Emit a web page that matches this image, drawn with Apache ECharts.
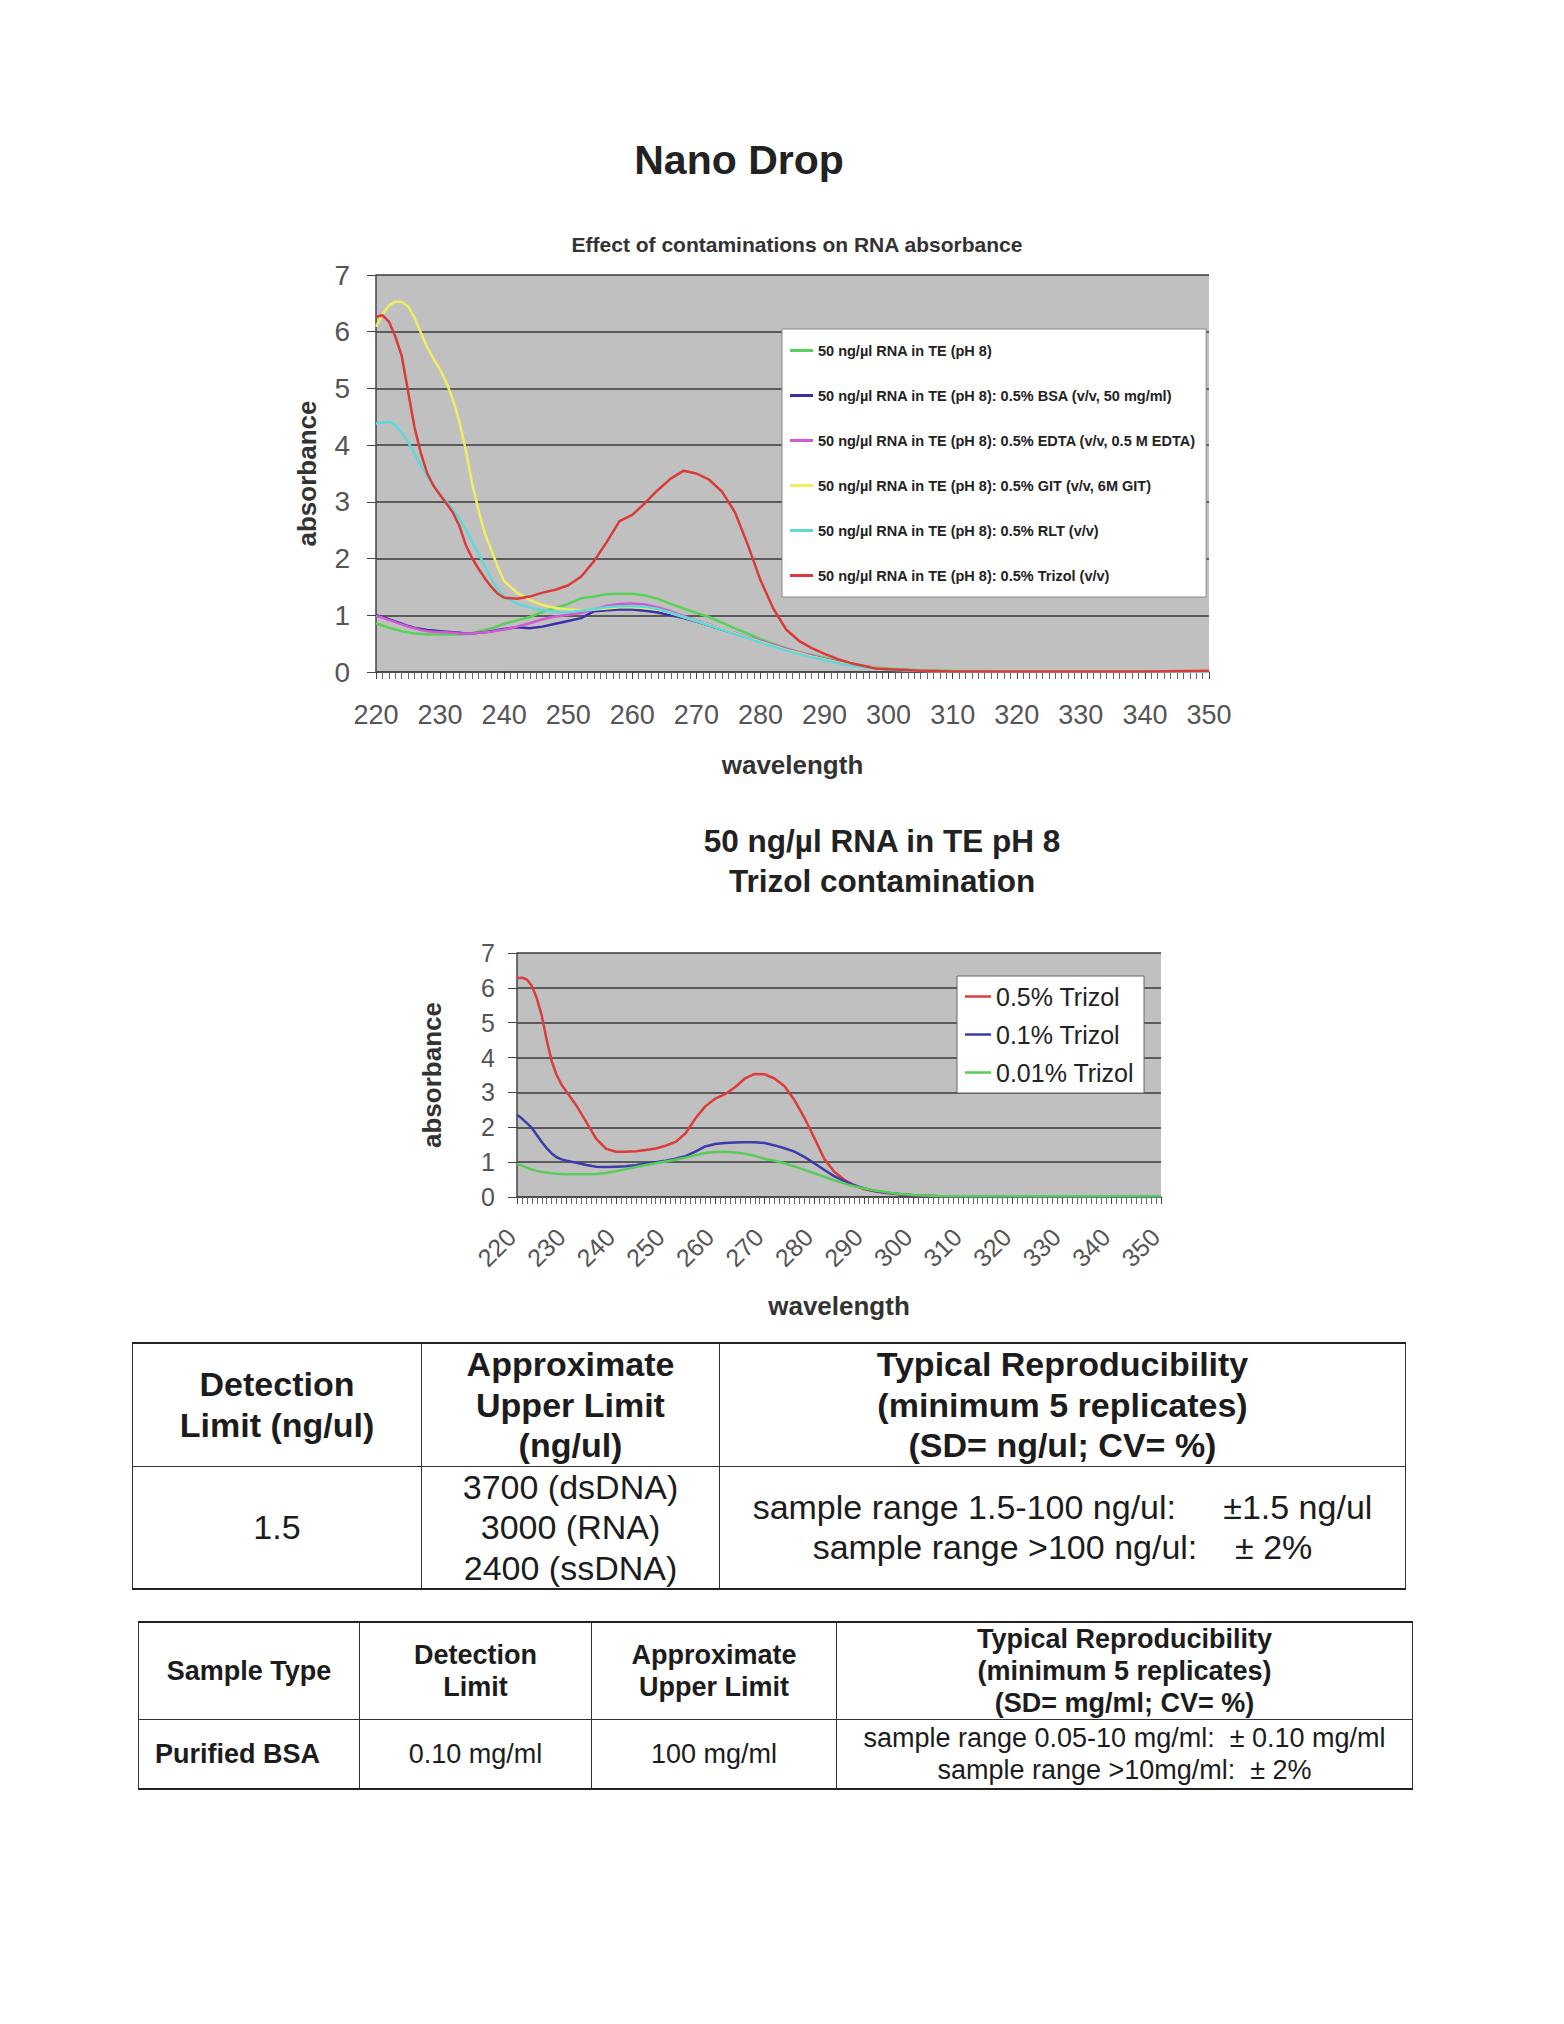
<!DOCTYPE html>
<html><head><meta charset="utf-8">
<script src="https://cdn.jsdelivr.net/npm/echarts/dist/echarts.min.js"></script>
<style>
html,body{margin:0;padding:0;background:#fff;}
#chart{position:absolute;left:0;top:0;width:1564px;height:2024px;}
table{position:absolute;border-collapse:collapse;font-family:'Liberation Sans',Arial,sans-serif;color:#1c1c1c;table-layout:fixed;}
td{border:1px solid #333;text-align:center;vertical-align:middle;padding:0;white-space:nowrap;}
#t1 td{font-size:34px;line-height:40.5px;}
#t1 tr.h td{font-weight:bold;}
#t1{border-top:2px solid #222;border-bottom:2px solid #222;}
#t2 td{font-size:27px;line-height:32px;}
#t2 tr.h td{font-weight:bold;}
#t2{border-top:2px solid #222;border-bottom:2px solid #222;}
</style></head>
<body>
<div id="chart"></div>

<table id="t1" style="left:132px;top:1342px;width:1273px;">
<colgroup><col style="width:289px"><col style="width:298px"><col style="width:686px"></colgroup>
<tr class="h" style="height:121px"><td>Detection<br>Limit (ng/ul)</td><td>Approximate<br>Upper Limit<br>(ng/ul)</td><td>Typical Reproducibility<br>(minimum 5 replicates)<br>(SD= ng/ul; CV= %)</td></tr>
<tr style="height:123px"><td>1.5</td><td>3700 (dsDNA)<br>3000 (RNA)<br>2400 (ssDNA)</td><td>sample range 1.5-100 ng/ul:&nbsp;&nbsp;&nbsp;&nbsp; ±1.5 ng/ul<br>sample range &gt;100 ng/ul:&nbsp;&nbsp;&nbsp; ± 2%</td></tr>
</table>

<table id="t2" style="left:138px;top:1621px;width:1274px;">
<colgroup><col style="width:221px"><col style="width:232px"><col style="width:245px"><col style="width:576px"></colgroup>
<tr class="h" style="height:95px"><td>Sample Type</td><td>Detection<br>Limit</td><td>Approximate<br>Upper Limit</td><td>Typical Reproducibility<br>(minimum 5 replicates)<br>(SD= mg/ml; CV= %)</td></tr>
<tr style="height:69px"><td style="font-weight:bold;text-align:left;padding-left:16px;">Purified BSA</td><td>0.10 mg/ml</td><td>100 mg/ml</td><td>sample range 0.05-10 mg/ml:&nbsp; ± 0.10 mg/ml<br>sample range &gt;10mg/ml:&nbsp; ± 2%</td></tr>
</table>

<script>
// ---------- Chart 1 data: Effect of contaminations on RNA absorbance ----------
const wl1 = [220,221,222,223,224,225,226,227,228,229,230,231,232,233,234,235,236,237,238,239,240,242,244,246,248,250,252,254,256,258,260,262,264,266,268,270,272,274,276,278,280,282,284,286,288,290,292,294,296,298,300,305,310,320,330,340,350];
const rnaTE = [0.86,0.82,0.78,0.75,0.72,0.70,0.68,0.67,0.66,0.66,0.66,0.66,0.66,0.66,0.67,0.69,0.71,0.74,0.77,0.81,0.85,0.91,0.97,1.06,1.13,1.20,1.30,1.33,1.37,1.38,1.38,1.35,1.29,1.20,1.12,1.04,0.97,0.87,0.77,0.68,0.58,0.50,0.42,0.35,0.30,0.25,0.19,0.15,0.11,0.08,0.06,0.03,0.02,0.01,0.01,0.01,0.01];
const bsa = [1.00,0.97,0.93,0.89,0.85,0.81,0.78,0.76,0.74,0.73,0.72,0.71,0.70,0.69,0.68,0.68,0.69,0.70,0.72,0.74,0.76,0.79,0.77,0.80,0.85,0.90,0.95,1.07,1.09,1.10,1.10,1.08,1.05,1.00,0.95,0.89,0.82,0.75,0.68,0.61,0.54,0.47,0.40,0.34,0.28,0.23,0.18,0.13,0.10,0.07,0.05,0.02,0.01,0.01,0.01,0.01,0.01];
const edta = [0.99,0.96,0.92,0.88,0.84,0.80,0.77,0.74,0.72,0.71,0.70,0.70,0.69,0.68,0.68,0.68,0.69,0.70,0.71,0.73,0.75,0.80,0.86,0.93,0.98,1.01,1.04,1.10,1.17,1.20,1.21,1.19,1.14,1.07,0.99,0.91,0.84,0.76,0.69,0.62,0.55,0.48,0.41,0.35,0.29,0.23,0.18,0.14,0.10,0.07,0.05,0.02,0.01,0.01,0.01,0.01,0.01];
const git = [6.09,6.30,6.46,6.53,6.53,6.45,6.25,5.98,5.72,5.52,5.33,5.10,4.80,4.42,3.92,3.33,2.85,2.44,2.15,1.85,1.60,1.40,1.27,1.18,1.13,1.10,1.09,1.10,1.12,1.14,1.14,1.13,1.10,1.04,0.97,0.90,0.83,0.76,0.68,0.61,0.53,0.46,0.39,0.33,0.27,0.22,0.17,0.13,0.10,0.07,0.05,0.02,0.01,0.01,0.01,0.01,0.01];
const rlt = [4.38,4.40,4.41,4.36,4.22,4.05,3.86,3.64,3.45,3.28,3.12,3.00,2.86,2.71,2.52,2.30,2.09,1.86,1.64,1.46,1.33,1.20,1.14,1.09,1.06,1.06,1.08,1.11,1.14,1.16,1.16,1.15,1.11,1.04,0.97,0.90,0.82,0.75,0.67,0.60,0.52,0.45,0.38,0.32,0.26,0.21,0.16,0.12,0.09,0.06,0.04,0.02,0.01,0.01,0.01,0.01,0.01];
const trizol = [6.26,6.29,6.18,5.92,5.58,4.95,4.32,3.86,3.50,3.28,3.12,2.97,2.81,2.58,2.24,2.01,1.82,1.65,1.50,1.38,1.31,1.29,1.33,1.40,1.45,1.53,1.68,1.95,2.29,2.66,2.77,2.98,3.21,3.41,3.55,3.50,3.39,3.18,2.82,2.25,1.62,1.12,0.75,0.55,0.42,0.32,0.23,0.16,0.11,0.06,0.05,0.02,0.01,0.01,0.01,0.01,0.02];
const names1 = ['50 ng/µl RNA in TE (pH 8)','50 ng/µl RNA in TE (pH 8): 0.5% BSA (v/v, 50 mg/ml)','50 ng/µl RNA in TE (pH 8): 0.5% EDTA (v/v, 0.5 M EDTA)','50 ng/µl RNA in TE (pH 8): 0.5% GIT (v/v, 6M GIT)','50 ng/µl RNA in TE (pH 8): 0.5% RLT (v/v)','50 ng/µl RNA in TE (pH 8): 0.5% Trizol (v/v)'];
const colors1 = ['#58d158','#3a30a8','#d25ad2','#eeee62','#5ed8d8','#da3a3a'];

// ---------- Chart 2 data: Trizol contamination ----------
const wl2 = [220,221,222,223,224,225,226,227,228,229,230,232,234,236,238,240,242,244,246,248,250,252,254,256,258,260,262,264,266,268,270,272,274,276,278,280,282,284,286,288,290,292,294,296,298,300,305,310,320,330,340,350];
const triz05 = [6.28,6.29,6.24,6.05,5.70,5.20,4.50,3.90,3.50,3.22,3.02,2.62,2.15,1.67,1.38,1.30,1.30,1.31,1.35,1.39,1.47,1.58,1.82,2.25,2.60,2.82,2.95,3.15,3.40,3.53,3.52,3.40,3.18,2.78,2.28,1.70,1.10,0.73,0.50,0.34,0.23,0.17,0.13,0.09,0.07,0.05,0.02,0.01,0.01,0.01,0.01,0.01];
const triz01 = [2.36,2.25,2.12,1.98,1.78,1.58,1.40,1.25,1.14,1.08,1.04,0.98,0.92,0.87,0.86,0.87,0.88,0.91,0.96,1.00,1.04,1.10,1.17,1.30,1.45,1.52,1.55,1.56,1.57,1.57,1.55,1.48,1.40,1.30,1.15,0.97,0.78,0.60,0.46,0.34,0.25,0.18,0.13,0.10,0.07,0.05,0.02,0.01,0.01,0.02,0.01,0.01];
const triz001 = [0.95,0.90,0.84,0.79,0.75,0.72,0.70,0.68,0.67,0.66,0.65,0.65,0.65,0.66,0.69,0.74,0.80,0.86,0.92,0.97,1.02,1.07,1.13,1.20,1.26,1.29,1.30,1.28,1.24,1.18,1.10,1.04,0.97,0.88,0.78,0.68,0.58,0.48,0.39,0.31,0.25,0.19,0.15,0.11,0.08,0.06,0.03,0.02,0.02,0.02,0.02,0.02];
const names2 = ['0.5% Trizol','0.1% Trizol','0.01% Trizol'];
const colors2 = ['#dc3c3c','#3c3caa','#58cc58'];

// axis ranges / tick labels
const X_MIN = 220, X_MAX = 350, X_STEP = 10;
const Y_MIN = 0, Y_MAX = 7, Y_STEP = 1;

const FONT = "'Liberation Sans', Arial, Helvetica, sans-serif";
function pairs(xs, ys){ return xs.map((x,i)=>[x, ys[i]]); }

const chart = echarts.init(document.getElementById('chart'), null, {renderer:'svg'});

function xAxisCfg(grid, fontSize, rotate, margin, nameGap, pad){
  return {
    gridIndex:grid, type:'value', min:X_MIN, max:X_MAX, interval:X_STEP,
    axisLine:{show:true, onZero:true, lineStyle:{color:'#444', width:1.5}},
    axisTick:{show:true, length:7, lineStyle:{color:'#444'}},
    minorTick:{show:true, splitNumber:10, length:7, lineStyle:{color:'#666'}},
    splitLine:{show:false},
    axisLabel:{fontSize:fontSize, color:'#555', margin:margin, rotate:rotate, padding:pad, fontFamily:FONT},
    name:'wavelength', nameLocation:'middle', nameGap:nameGap,
    nameTextStyle:{fontSize:26, fontWeight:'bold', color:'#333', fontFamily:FONT}
  };
}
function yAxisCfg(grid, fontSize, margin, nameGap){
  return {
    gridIndex:grid, type:'value', min:Y_MIN, max:Y_MAX, interval:Y_STEP,
    axisLine:{show:true, lineStyle:{color:'#444', width:1.5}},
    axisTick:{show:true, length:9, lineStyle:{color:'#444'}},
    splitLine:{show:true, lineStyle:{color:'#3a3a3a', width:1.5}},
    axisLabel:{fontSize:fontSize, color:'#555', margin:margin, fontFamily:FONT},
    name:'absorbance', nameLocation:'middle', nameGap:nameGap,
    nameTextStyle:{fontSize:26, fontWeight:'bold', color:'#333', fontFamily:FONT}
  };
}

const series1 = [rnaTE, bsa, edta, git, rlt, trizol].map((vals,i)=>({
  name:names1[i], type:'line', xAxisIndex:0, yAxisIndex:0, symbol:'none',
  data:pairs(wl1, vals), lineStyle:{width:2.5, color:colors1[i]}, itemStyle:{color:colors1[i]}
}));
const series2 = [triz05, triz01, triz001].map((vals,i)=>({
  name:names2[i], type:'line', xAxisIndex:1, yAxisIndex:1, symbol:'none',
  data:pairs(wl2, vals), lineStyle:{width:2.5, color:colors2[i]}, itemStyle:{color:colors2[i]}
}));

chart.setOption({
  animation:false,
  backgroundColor:'#ffffff',
  textStyle:{fontFamily:FONT},
  title:[
    {text:'Nano Drop', left:739, top:139, textAlign:'center', padding:0,
     textStyle:{fontSize:41, fontWeight:'bold', color:'#222', fontFamily:FONT}},
    {text:'Effect of contaminations on RNA absorbance', left:797, top:234, textAlign:'center', padding:0,
     textStyle:{fontSize:21, fontWeight:'bold', color:'#333', fontFamily:FONT}},
    {text:'50 ng/µl RNA in TE pH 8\nTrizol contamination', left:882, top:821, textAlign:'center', padding:0,
     textStyle:{fontSize:31.5, fontWeight:'bold', color:'#222', lineHeight:40, fontFamily:FONT}}
  ],
  grid:[
    {left:376, top:275, width:833, height:397, show:true, backgroundColor:'#c0c0c0', borderWidth:0},
    {left:517, top:953, width:644, height:244, show:true, backgroundColor:'#c0c0c0', borderWidth:0}
  ],
  xAxis:[ xAxisCfg(0, 27, 0, 29, 80, 0), xAxisCfg(1, 25, 45, 30, 96, [0,8,0,0]) ],
  yAxis:[ yAxisCfg(0, 28, 26, 56), yAxisCfg(1, 25, 22, 72) ],
  legend:[
    {data:names1, orient:'vertical', left:782, top:329, padding:[14,10,14,8], itemGap:30,
     icon:'rect', itemWidth:23, itemHeight:3, backgroundColor:'#ffffff', borderColor:'#888', borderWidth:1,
     textStyle:{fontSize:14.5, lineHeight:15, fontWeight:'bold', color:'#222', fontFamily:FONT}},
    {data:names2, orient:'vertical', left:957, top:976, padding:[8,10,8,8], itemGap:13,
     icon:'rect', itemWidth:26, itemHeight:2.5, backgroundColor:'#ffffff', borderColor:'#666', borderWidth:1,
     textStyle:{fontSize:25, lineHeight:25, color:'#222', fontFamily:FONT}}
  ],
  series: series1.concat(series2)
});
</script>
</body></html>
